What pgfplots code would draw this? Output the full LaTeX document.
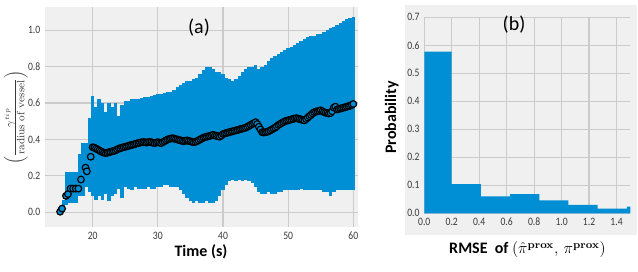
\documentclass[border=0pt]{standalone}
\usepackage[no-math]{fontspec}
\setmainfont{Carlito}
\newfontfamily\tickfont[FakeStretch=0.85]{Carlito}
\usepackage{pgfplots}
\pgfplotsset{compat=1.18}
\usepackage{pgfplotstable}
\definecolor{c538}{HTML}{008FD5}
\definecolor{bg538}{HTML}{F0F0F0}
\definecolor{grid538}{HTML}{CBCBCB}
\definecolor{tickc}{HTML}{3A3A3A}

\pgfplotstableread{
t lo hi
15.0 -0.01 0.03
15.5 0.00 0.07
16.0 0.04 0.22
16.5 0.05 0.22
17.0 0.05 0.22
17.5 0.05 0.22
18.0 0.09 0.32
18.5 0.09 0.38
19.0 0.14 0.38
19.5 0.11 0.52
20.0 0.09 0.64
20.5 0.07 0.58
21.0 0.09 0.62
21.5 0.07 0.60
22.0 0.10 0.55
22.5 0.06 0.60
23.0 0.09 0.58
23.5 0.10 0.60
24.0 0.13 0.53
24.5 0.08 0.59
25.0 0.14 0.61
25.5 0.13 0.61
26.0 0.12 0.62
26.5 0.14 0.62
27.0 0.13 0.62
27.5 0.13 0.63
28.0 0.13 0.635
28.5 0.14 0.635
29.0 0.13 0.64
29.5 0.13 0.645
30.0 0.14 0.65
30.5 0.14 0.65
31.0 0.15 0.655
31.5 0.15 0.66
32.0 0.14 0.66
32.5 0.14 0.67
33.0 0.14 0.69
33.5 0.12 0.70
34.0 0.10 0.71
34.5 0.08 0.72
35.0 0.06 0.72
35.5 0.05 0.73
36.0 0.06 0.74
36.5 0.05 0.76
37.0 0.05 0.78
37.5 0.06 0.80
38.0 0.05 0.80
38.5 0.05 0.79
39.0 0.06 0.77
39.5 0.09 0.77
40.0 0.12 0.76
40.5 0.15 0.74
41.0 0.17 0.73
41.5 0.18 0.72
42.0 0.17 0.73
42.5 0.18 0.75
43.0 0.17 0.77
43.5 0.18 0.79
44.0 0.17 0.80
44.5 0.16 0.80
45.0 0.14 0.81
45.5 0.11 0.79
46.0 0.10 0.80
46.5 0.10 0.81
47.0 0.11 0.83
47.5 0.10 0.85
48.0 0.10 0.86
48.5 0.11 0.87
49.0 0.11 0.88
49.5 0.12 0.89
50.0 0.12 0.90
50.5 0.12 0.91
51.0 0.12 0.92
51.5 0.12 0.93
52.0 0.13 0.94
52.5 0.12 0.95
53.0 0.12 0.965
53.5 0.12 0.97
54.0 0.12 0.97
54.5 0.12 0.98
55.0 0.12 0.98
55.5 0.11 0.99
56.0 0.11 1.00
56.5 0.09 1.01
57.0 0.11 1.02
57.5 0.12 1.03
58.0 0.12 1.04
58.5 0.12 1.05
59.0 0.12 1.06
59.5 0.12 1.065
60.0 0.12 1.075
}\bandtable

\pgfplotstableread{
t m
15.0 0.003
15.3 0.02
15.9 0.09
16.2 0.10
16.6 0.13
17.0 0.13
17.4 0.13
17.8 0.13
18.2 0.18
18.9 0.245
19.1 0.225
19.7 0.305
20.00 0.357
20.25 0.355
20.50 0.350
20.75 0.345
21.00 0.340
21.25 0.335
21.50 0.330
21.75 0.327
22.00 0.325
22.25 0.327
22.50 0.330
22.75 0.332
23.00 0.335
23.25 0.337
23.50 0.340
23.75 0.345
24.00 0.350
24.25 0.352
24.50 0.355
24.75 0.358
25.00 0.360
25.25 0.362
25.50 0.365
25.75 0.368
26.00 0.370
26.25 0.372
26.50 0.375
26.75 0.378
27.00 0.380
27.25 0.383
27.50 0.385
27.75 0.385
28.00 0.385
28.25 0.383
28.50 0.385
28.75 0.387
29.00 0.385
29.25 0.382
29.50 0.380
29.75 0.383
30.00 0.385
30.25 0.383
30.50 0.380
30.75 0.385
31.00 0.390
31.25 0.395
31.50 0.400
31.75 0.403
32.00 0.405
32.25 0.407
32.50 0.405
32.75 0.402
33.00 0.400
33.25 0.397
33.50 0.395
33.75 0.392
34.00 0.390
34.25 0.393
34.50 0.395
34.75 0.392
35.00 0.390
35.25 0.387
35.50 0.385
35.75 0.387
36.00 0.390
36.25 0.395
36.50 0.400
36.75 0.405
37.00 0.410
37.25 0.413
37.50 0.415
37.75 0.418
38.00 0.420
38.25 0.423
38.50 0.425
38.75 0.422
39.00 0.420
39.25 0.417
39.50 0.415
39.75 0.422
40.00 0.430
40.25 0.433
40.50 0.435
40.75 0.438
41.00 0.440
41.25 0.443
41.50 0.445
41.75 0.448
42.00 0.450
42.25 0.452
42.50 0.455
42.75 0.458
43.00 0.460
43.25 0.462
43.50 0.465
43.75 0.470
44.00 0.475
44.25 0.480
44.50 0.485
44.75 0.490
45.00 0.495
45.25 0.485
45.50 0.470
45.75 0.455
46.00 0.440
46.25 0.438
46.50 0.440
46.75 0.442
47.00 0.445
47.25 0.450
47.50 0.455
47.75 0.460
48.00 0.465
48.25 0.472
48.50 0.480
48.75 0.485
49.00 0.490
49.25 0.495
49.50 0.500
49.75 0.503
50.00 0.505
50.25 0.508
50.50 0.510
50.75 0.513
51.00 0.515
51.25 0.517
51.50 0.515
51.75 0.512
52.00 0.510
52.25 0.507
52.50 0.505
52.75 0.512
53.00 0.520
53.25 0.528
53.50 0.535
53.75 0.543
54.00 0.550
54.25 0.553
54.50 0.555
54.75 0.558
55.00 0.560
55.25 0.555
55.50 0.550
55.75 0.547
56.00 0.545
56.25 0.543
56.50 0.545
56.75 0.555
57.00 0.575
57.25 0.580
57.50 0.565
57.75 0.567
58.00 0.570
58.25 0.572
58.50 0.575
58.75 0.577
59.00 0.580
59.25 0.583
59.50 0.585
59.75 0.590
60.00 0.595
}\meantable

\pgfplotsset{
  style538/.style={
    scale only axis,
    axis line style={draw=none},
    tick style={draw=none},
    grid=major,
    grid style={grid538, line width=0.9pt},
    /pgf/number format/assume math mode=true,
    tick label style={font=\tickfont\fontsize{8.5}{9}\selectfont, text=tickc},
  }
}

\begin{document}
\begin{tikzpicture}[x=1pt,y=1pt]
\path[use as bounding box] (0,0) rectangle (478.5,203.25);
\fill[bg538] (303.75,27) rectangle (477.75,199.5);

\begin{axis}[style538,
  at={(33.75pt,33pt)}, anchor=south west,
  width=234.75pt, height=165pt,
  xmin=12.68, xmax=60.72, ymin=-0.081, ymax=1.128,
  axis background/.style={fill=bg538},
  xtick={20,30,40,50,60},
  ytick={0,0.2,0.4,0.6,0.8,1.0},
  yticklabel style={/pgf/number format/.cd, fixed, fixed zerofill, precision=1},
]
\addplot[draw=none, mark=none,
  error bars/.cd, y dir=plus, y explicit,
  error mark=none,
  error bar style={line width=2.6pt, c538}]
  table[x=t, y=lo, y error plus expr=\thisrow{hi}-\thisrow{lo}] {\bandtable};
\addplot[only marks, mark=*, mark size=2.5pt,
  mark options={draw=black, fill=c538, line width=0.9pt}]
  table[x=t, y=m] {\meantable};
\end{axis}

\begin{axis}[style538,
  at={(318.2pt,43.3pt)}, anchor=south west,
  width=154.5pt, height=147pt,
  xmin=0, xmax=1.5, ymin=0, ymax=0.7,
  xtick={0,0.2,0.4,0.6,0.8,1.0,1.2,1.4},
  ytick={0,0.1,0.2,0.3,0.4,0.5,0.6,0.7},
  xticklabel style={/pgf/number format/.cd, fixed, fixed zerofill, precision=1},
  yticklabel style={/pgf/number format/.cd, fixed, fixed zerofill, precision=1},
]
\addplot[ybar interval, fill=c538, draw=none]
  coordinates {(-0.0125,0.577) (0.2,0.104) (0.4125,0.06) (0.625,0.068)
               (0.8375,0.046) (1.05,0.030) (1.2625,0.017) (1.475,0.024) (1.6875,0.024)};
\end{axis}

\node[font=\fontsize{15}{16}\selectfont] at (149.25,182.5) {(a)};
\node[font=\bfseries\fontsize{12}{14}\selectfont] at (150.75,14.25) {Time (s)};
\node[rotate=90, inner sep=0pt, font=\fontsize{11}{13}\selectfont, text=tickc] at (11.8,115.1)
  {$\left(\frac{\gamma^{tip}}{\mathrm{radius\ of\ vessel}}\right)$};
\node[font=\fontsize{15}{16}\selectfont] at (385.5,184.5) {(b)};
\node[rotate=90, font=\bfseries\fontsize{12}{14}\selectfont] at (293.8,115.1) {Probability};
\node[font=\fontsize{12}{14}\selectfont] at (395.6,15.75)
  {\textbf{RMSE\ \ of}\ $\left(\hat{\pi}^{\mathbf{prox}},\,\pi^{\mathbf{prox}}\right)$};
\end{tikzpicture}
\end{document}
